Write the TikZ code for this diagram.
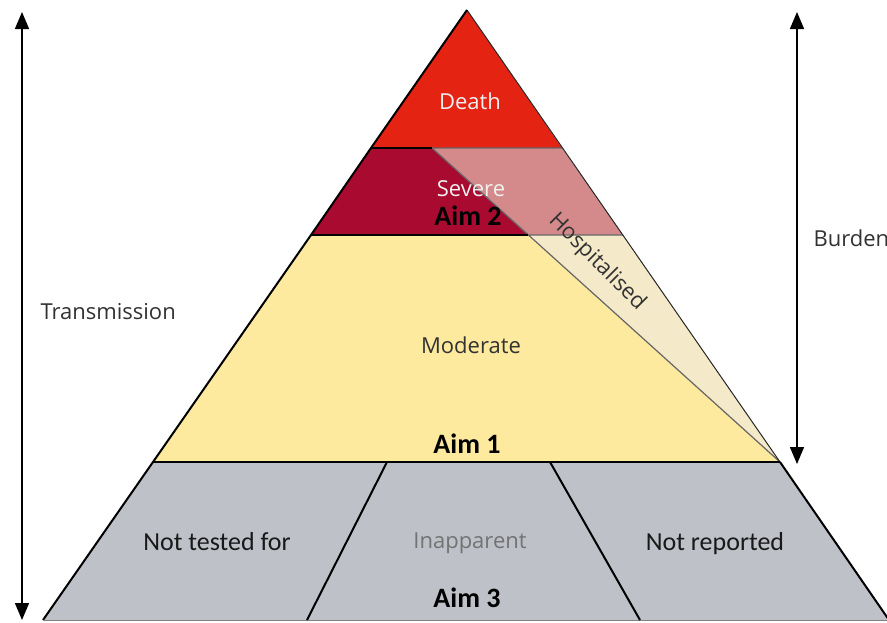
\documentclass[tikz,border=0pt]{standalone}
\usepackage{fontspec}
\setmainfont{Open Sans}
\newfontfamily\calib{Carlito}
\usetikzlibrary{arrows.meta,calc}
\definecolor{deathred}{RGB}{228,35,18}
\definecolor{severered}{RGB}{168,10,48}
\definecolor{hosppink}{RGB}{212,138,138}
\definecolor{modyellow}{RGB}{253,234,158}
\definecolor{hospbeige}{RGB}{244,233,200}
\definecolor{unseengray}{RGB}{190,194,200}
\definecolor{lblgray}{RGB}{50,50,50}
\tikzset{
  lbl/.style={font=\fontsize{22}{24}\selectfont, text=lblgray, anchor=base},
  wlbl/.style={lbl, text=white!94!black},
  clbl/.style={font=\calib\fontsize{26}{28}\selectfont, text=black!90, anchor=base},
  aim/.style={font=\calib\bfseries\fontsize{28}{30}\selectfont, anchor=base},
  edge/.style={draw=black, line width=2pt, line join=round},
  span/.style={{Triangle[width=14pt,length=17pt]}-{Triangle[width=14pt,length=17pt]}, line width=1.5pt}
}
\begin{document}
\begin{tikzpicture}[x=1pt,y=-1pt]
\useasboundingbox (0,0) rectangle (887,622);
\coordinate (t) at (467,10);
\coordinate (dl) at (371,148);
\coordinate (dr) at (562,148);
\coordinate (sl) at (311,235);
\coordinate (sr) at (623,235);
\coordinate (ml) at (153,462);
\coordinate (mr) at (780,462);
\coordinate (bl) at (43,620);
\coordinate (br) at (889,620);
\coordinate (h) at (432,148);
\coordinate (hs) at (528,235);
\coordinate (gl) at (387,462);
\coordinate (gl2) at (307,620);
\coordinate (gr) at (550,462);
\coordinate (gr2) at (640,620);
\fill[deathred](t)--(dl)--(dr)--cycle;
\fill[severered](dl)--(h)--(hs)--(sl)--cycle;
\fill[hosppink](h)--(dr)--(sr)--(hs)--cycle;
\fill[modyellow](sl)--(hs)--(mr)--(ml)--cycle;
\fill[hospbeige](hs)--(sr)--(mr)--cycle;
\fill[unseengray](ml)--(mr)--(br)--(bl)--cycle;
\draw[gray!80!black, line width=1.2pt](h)--(mr)(hs)--(sr)(h)--(dr);
\draw[black!85, line width=1pt](t)--(mr);
\draw[edge](dl)--(h)(sl)--(hs)(mr)--(ml);
\draw[edge](t)--(dl)--(sl)--(ml)--(bl)(mr)--(br);
\draw[gray, line width=1pt](bl)--(br);
\draw[edge](gl)--(gl2)(gr)--(gr2);
\node[wlbl](death) at (470,109){Death};
\node[wlbl](severe) at (471,196){Severe};
\node[aim](aim2) at (468,225){Aim 2};
\node[lbl](moderate) at (471,353){Moderate};
\node[aim](aim1) at (467,453){Aim 1};
\node[lbl, rotate=-45, anchor=center](hosp) at (597,262){Hospitalised};
\node[clbl](nottested) at (217,550){Not tested for};
\node[lbl, text=black!55](inapp) at (470,548){Inapparent};
\node[clbl](notrep) at (715,550){Not reported};
\node[aim](aim3) at (467,607){Aim 3};
\node[lbl, anchor=base west](trans) at (37,319){Transmission};
\node[lbl, anchor=base west](burden) at (810,246){Burden};
\coordinate (ta) at (22,12);
\coordinate (tb) at (22,620);
\coordinate (ba) at (797,12);
\coordinate (bb) at (797,464);
\draw[span](ta)--(tb);
\draw[span](ba)--(bb);
\end{tikzpicture}
\end{document}
